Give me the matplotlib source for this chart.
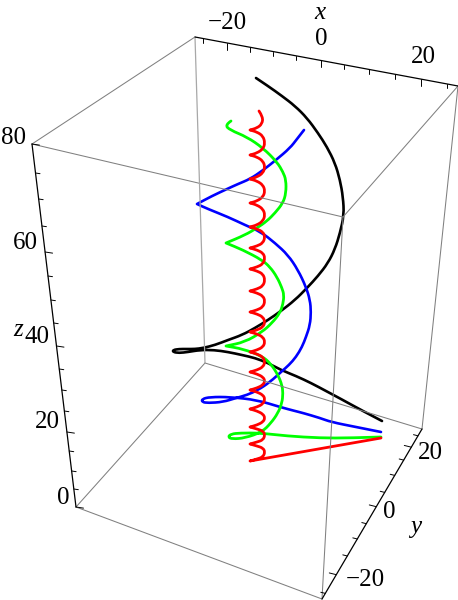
import matplotlib
matplotlib.use('Agg')
import matplotlib.pyplot as plt
from matplotlib.path import Path
from matplotlib.patches import PathPatch

plt.rcParams['font.family'] = ['Liberation Serif', 'DejaVu Serif']

# everything is in picture pixels, the 3D view is already flattened
# a point written twice is a sharp corner of the curve
black_x = [256, 268, 282, 295, 307, 318, 327, 335, 340, 343, 344, 340, 335, 328, 318, 307, 295, 281, 268, 255, 242,
           228, 215, 203, 195, 187, 179, 173, 173, 179, 188, 200, 214, 228, 242, 255, 268, 281, 296, 311, 326, 341, 361, 382]
black_y = [78, 86, 96, 106, 118, 133, 147, 163, 180, 197, 215, 233, 249, 263, 276, 288, 300, 311, 320, 328, 335,
           340, 345, 348, 349, 349, 349, 350, 352, 353, 352, 350, 350, 352, 355, 358, 363, 370, 376, 383, 391, 399, 410, 421]

blue_x = [304, 297, 290, 276, 262, 250, 238, 227, 212, 197, 197, 208, 228, 245, 261, 275, 288, 298, 306, 310, 311, 310,
          306, 302, 296, 289, 281, 270, 258, 247, 236, 223, 208, 202, 202, 210, 230, 257, 280, 295, 303, 320, 331, 356, 381]
blue_y = [130, 139, 148, 160, 171, 179, 184, 189, 196, 204, 204, 209, 217, 225, 232, 243, 255, 270, 287, 300, 312, 325,
          337, 347, 357, 365, 372, 382, 390, 395, 398, 402, 403, 402, 399, 397, 397, 400, 407, 411, 413, 418, 422, 427, 432]

green_x = [231, 225, 230, 247, 263, 277, 283, 286, 286, 283, 275, 267, 257, 245, 226, 226, 243, 262, 270, 277, 282, 284, 283,
           280, 272, 262, 245, 226, 226, 243, 262, 271, 278, 282, 283, 282, 278, 271, 262, 245, 232, 228, 231, 240, 260, 287, 320, 350, 381]
green_y = [121, 125, 130, 137, 148, 162, 172, 180, 193, 203, 213, 221, 228, 235, 243, 243, 250, 260, 267, 277, 288, 295, 304,
           313, 323, 332, 342, 346, 346, 349, 356, 364, 375, 385, 393, 403, 413, 423, 432, 438, 439, 437, 434, 433, 433, 436, 438, 438, 437]

red_x = [259, 263, 262, 257, 250, 250,
         257, 263, 265, 263, 257, 250, 250, 257, 263, 265, 263, 257, 250, 250, 257, 263, 265, 263, 257, 250, 250,
         257, 263, 265, 263, 257, 250, 250, 257, 263, 265, 263, 257, 250, 250, 257, 263, 265, 263, 257, 250, 250,
         257, 263, 265, 263, 257, 250, 250, 257, 263, 265, 263, 257, 250, 250, 257, 263, 265, 263, 257, 250, 250,
         257, 263, 265, 263, 257, 250, 250, 257, 263, 265, 263, 257, 250, 250, 257, 263, 265, 263, 257, 250, 250,
         257, 263, 265, 263, 257, 250, 250, 257, 263, 265, 263, 257, 250, 250, 257, 263, 265, 263, 257, 250, 250,
         257, 263, 265, 263, 257, 250, 250, 381]
red_y = [111, 117, 124, 128, 130, 130,
         132, 136, 143, 149, 153, 155, 155, 157, 161, 167, 173, 177, 179, 179, 181, 185, 191, 197, 201, 203, 203,
         205, 209, 215, 221, 225, 227, 227, 229, 232, 237, 243, 246, 248, 248, 250, 253, 258, 264, 267, 269, 269,
         271, 274, 280, 286, 289, 291, 291, 293, 296, 301, 307, 310, 312, 312, 314, 317, 322, 327, 330, 332, 332,
         334, 337, 342, 347, 350, 352, 352, 354, 357, 362, 367, 370, 372, 372, 374, 377, 381, 385, 388, 390, 390,
         392, 395, 399, 404, 407, 409, 409, 411, 414, 418, 422, 425, 427, 427, 429, 431, 435, 440, 442, 444, 444,
         446, 448, 452, 457, 459, 461, 461, 438]

# tick values on the three box axes and where they landed on the picture
x_ticks = [-25, -20, -15, -10, -5, 0, 5, 10, 15, 20, 25]
x_tick_px = [203, 227, 250, 273, 296, 321, 344, 369, 395, 421, 447]
y_ticks = [-25, -20, -15, -10, -5, 0, 5, 10, 15, 20, 25]
y_tick_px = [325.3, 336.3, 347.3, 357.3, 366.3, 376.3, 384.7, 394.7, 403.7, 411.3, 418]
z_ticks = [0, 5, 10, 15, 20, 25, 30, 35, 40, 45, 50, 55, 60, 65, 70, 75, 80]
z_tick_px = [507, 489, 471, 451, 432, 411, 390, 369, 346, 323, 300, 276, 252, 226, 199, 173, 144]

# box corners
A, B, C, D = (32, 144), (195, 37), (458, 86), (343, 217)
E, F, G, H = (76, 507), (205, 363), (422, 429), (322, 599)

fig = plt.figure(figsize=(4.58, 6), dpi=100)
ax = fig.add_axes([0, 0, 1, 1])
ax.set_xlim(0, 458)
ax.set_ylim(600, 0)
ax.axis('off')


def edge(p, q, color='#808080', lw=0.75):
    ax.plot([p[0], q[0]], [p[1], q[1]], color=color, lw=lw, solid_capstyle='round')


def curve(xs, ys, color, lw):
    # quadratic pieces with the read points as control points, to get rid of the polygon look
    pts = list(zip(xs, ys))
    verts = [pts[0]]
    codes = [Path.MOVETO]
    for i in range(1, len(pts) - 1):
        nxt = pts[i + 1]
        end = nxt if i == len(pts) - 2 else ((pts[i][0] + nxt[0]) / 2, (pts[i][1] + nxt[1]) / 2)
        verts += [pts[i], end]
        codes += [Path.CURVE3, Path.CURVE3]
    ax.add_patch(PathPatch(Path(verts, codes), fill=False, edgecolor=color, lw=lw,
                           joinstyle='round', capstyle='round'))


for p, q in [(A, B), (C, D), (D, A), (E, F), (F, G), (H, E), (D, H), (C, G)]:
    edge(p, q)
edge(B, F, color='#a8a8a8', lw=0.9)
for p, q in [(A, E), (B, C), (G, H)]:
    edge(p, q, color='black', lw=0.9)

for v, px in zip(x_ticks, x_tick_px):
    py = B[1] + (px - B[0]) * (C[1] - B[1]) / (C[0] - B[0])
    edge((px, py), (px, py + (7 if v % 20 == 0 else 4.5)), color='black', lw=0.7)
for v, py in zip(z_ticks, z_tick_px):
    px = A[0] + (py - A[1]) * (E[0] - A[0]) / (E[1] - A[1])
    n = 7.5 if v % 20 == 0 else 4.5
    edge((px, py), (px + n, py + n * 0.15), color='black', lw=0.7)
for v, px in zip(y_ticks, y_tick_px):
    py = G[1] + (px - G[0]) * (H[1] - G[1]) / (H[0] - G[0])
    n = 7 if v % 20 == 0 else 4.5
    edge((px, py), (px - n, py - n * 0.25), color='black', lw=0.7)

curve(black_x, black_y, 'black', 1.9)
curve(blue_x, blue_y, '#0000ff', 1.9)
curve(green_x, green_y, '#00ff00', 2.0)
curve(red_x, red_y, '#ff0000', 2.0)

fs = 18
for s, tx, ty in [('\u221220', 227, 23), ('0', 321, 39), ('20', 423, 57),
                  ('80', 13, 138), ('60', 25, 243), ('40', 37, 337), ('20', 47, 422), ('0', 63, 498),
                  ('20', 430, 453), ('0', 389, 512), ('\u221220', 365, 580)]:
    ax.text(tx, ty, s, fontsize=fs, ha='center', va='center')
for s, tx, ty in [('x', 320, 13), ('z', 18, 330), ('y', 416, 527)]:
    ax.text(tx, ty, s, fontsize=fs, style='italic', ha='center', va='center')

fig.savefig('out.png', dpi=100)
